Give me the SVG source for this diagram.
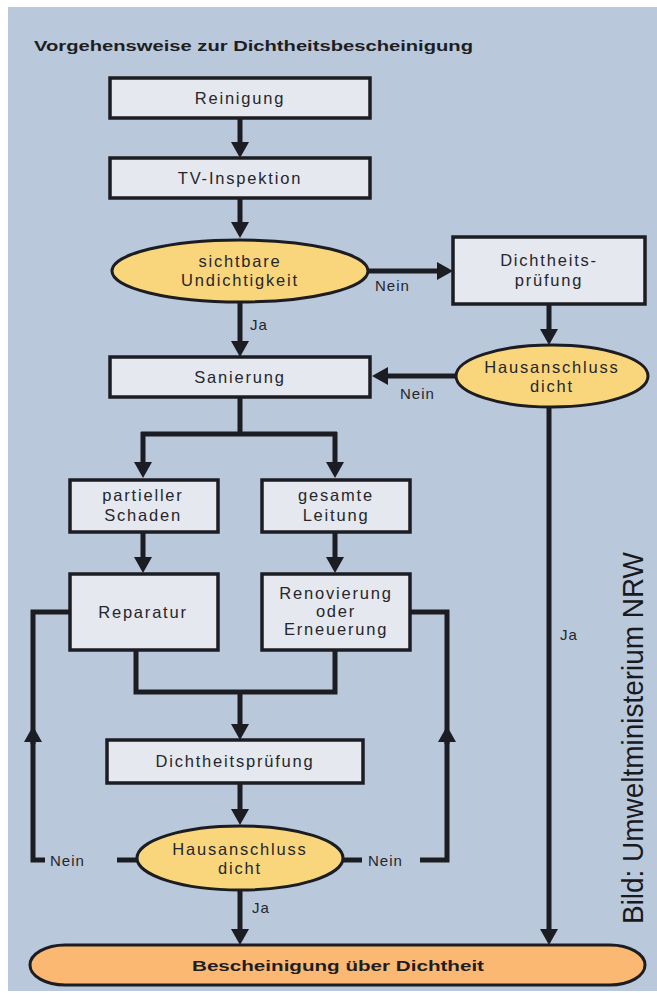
<svg xmlns="http://www.w3.org/2000/svg" width="657" height="993" viewBox="0 0 657 993">
<defs>
<marker id="ah" markerUnits="userSpaceOnUse" markerWidth="16" markerHeight="18" viewBox="0 -9 16 18" refX="0" refY="0" orient="auto">
<path d="M0,-9 L16,0 L0,9 z" fill="#1c1d22"/>
</marker>
<style>
.box{fill:#e5e8ef;stroke:#1c1d22;stroke-width:3.5}
.dec{fill:#f9d67c;stroke:#1c1d22;stroke-width:3}
.end{fill:#fbb873;stroke:#1c1d22;stroke-width:3}
.ln{fill:none;stroke:#1c1d22;stroke-width:5}
.ar{fill:none;stroke:#1c1d22;stroke-width:5;marker-end:url(#ah)}
.t{font-family:"Liberation Sans",Arial,sans-serif;font-size:16.5px;fill:#26262b;text-anchor:middle;letter-spacing:1.8px}
.lb{font-family:"Liberation Sans",Arial,sans-serif;font-size:15px;fill:#26262b;letter-spacing:1px}
.b{font-family:"Liberation Sans",Arial,sans-serif;font-size:15px;font-weight:bold;fill:#1e1e22}
</style>
</defs>
<rect x="8" y="7" width="649" height="984" fill="#b9c8db"/>
<text class="b" x="34" y="51" textLength="439" lengthAdjust="spacingAndGlyphs">Vorgehensweise zur Dichtheitsbescheinigung</text>

<g id="connectors">
<path class="ar" d="M240,118 V142"/>
<path class="ar" d="M240,198 V222"/>
<path class="ar" d="M240,302 V341"/>
<path class="ar" d="M368,271 H437"/>
<path class="ar" d="M549,304 V329"/>
<path class="ar" d="M456,376 H388"/>
<path class="ar" d="M549,407 V929"/>
<path class="ln" d="M240,397 V434"/>
<path class="ln" d="M141,434 H337"/>
<path class="ar" d="M143,432 V462"/>
<path class="ar" d="M335,432 V462"/>
<path class="ar" d="M143,532 V557"/>
<path class="ar" d="M335,532 V557"/>
<path class="ln" d="M136,650 V692 H335 V650"/>
<path class="ar" d="M240,692 V724"/>
<path class="ar" d="M240,783 V809"/>
<path class="ln" d="M137,860 H117"/>
<path class="ar" d="M45,860 H33 V742"/>
<path class="ln" d="M33,744 V612 H70"/>
<path class="ln" d="M343,860 H362"/>
<path class="ar" d="M420,860 H447 V742"/>
<path class="ln" d="M447,744 V612 H410"/>
<path class="ar" d="M240,890 V929"/>
<text class="lb" x="375" y="291">Nein</text>
<text class="lb" x="250" y="330">Ja</text>
<text class="lb" x="400" y="399">Nein</text>
<text class="lb" x="560" y="640">Ja</text>
<text class="lb" x="50" y="866">Nein</text>
<text class="lb" x="368" y="866">Nein</text>
<text class="lb" x="252" y="913">Ja</text>
</g>

<g id="reinigung"><rect class="box" x="110" y="78" width="260" height="40"/><text class="t" x="240" y="104">Reinigung</text></g>
<g id="tv-inspektion"><rect class="box" x="110" y="158" width="260" height="40"/><text class="t" x="240" y="184">TV-Inspektion</text></g>
<g id="sichtbare-undichtigkeit"><ellipse class="dec" cx="240" cy="271" rx="128" ry="31"/><text class="t" x="240" y="267">sichtbare</text><text class="t" x="240" y="286">Undichtigkeit</text></g>
<g id="dichtheitspruefung-1"><rect class="box" x="453" y="237" width="192" height="67"/><text class="t" x="549" y="266">Dichtheits-</text><text class="t" x="549" y="286">prüfung</text></g>
<g id="sanierung"><rect class="box" x="110" y="357" width="260" height="40"/><text class="t" x="240" y="383">Sanierung</text></g>
<g id="hausanschluss-1"><ellipse class="dec" cx="552" cy="376" rx="96" ry="31"/><text class="t" x="552" y="373">Hausanschluss</text><text class="t" x="552" y="392">dicht</text></g>
<g id="partieller-schaden"><rect class="box" x="70" y="480" width="148" height="52"/><text class="t" x="143" y="501">partieller</text><text class="t" x="143" y="521">Schaden</text></g>
<g id="gesamte-leitung"><rect class="box" x="262" y="480" width="148" height="52"/><text class="t" x="336" y="501">gesamte</text><text class="t" x="336" y="521">Leitung</text></g>
<g id="reparatur"><rect class="box" x="70" y="574" width="148" height="76"/><text class="t" x="143" y="618">Reparatur</text></g>
<g id="renovierung"><rect class="box" x="262" y="574" width="148" height="76"/><text class="t" x="336" y="599">Renovierung</text><text class="t" x="336" y="617">oder</text><text class="t" x="336" y="635">Erneuerung</text></g>
<g id="dichtheitspruefung-2"><rect class="box" x="107" y="740" width="256" height="43"/><text class="t" x="235" y="767">Dichtheitsprüfung</text></g>
<g id="hausanschluss-2"><ellipse class="dec" cx="240" cy="858" rx="103" ry="32"/><text class="t" x="240" y="855">Hausanschluss</text><text class="t" x="240" y="874">dicht</text></g>
<g id="bescheinigung"><rect class="end" x="30" y="945" width="615" height="40" rx="35" ry="20"/><text class="b" x="338" y="971" text-anchor="middle" font-size="16" textLength="292" lengthAdjust="spacingAndGlyphs">Bescheinigung über Dichtheit</text></g>

<text x="643" y="924" transform="rotate(-90 643 924)" font-family="'Liberation Sans Narrow','Liberation Sans',Arial,sans-serif" font-size="29" fill="#1a1a1e" textLength="372" lengthAdjust="spacingAndGlyphs">Bild: Umweltministerium NRW</text>
</svg>
